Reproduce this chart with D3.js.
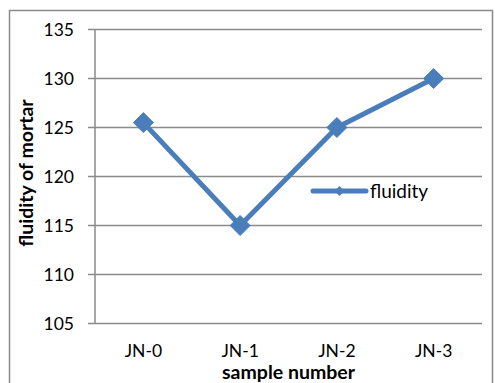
<!DOCTYPE html>
<html>
<head>
<meta charset="utf-8">
<script src="https://cdn.jsdelivr.net/npm/d3@7"></script>
<style>
  html, body { margin: 0; padding: 0; background: #fff; }
  svg { display: block; }
</style>
</head>
<body>
<svg id="chart" width="495" height="383"></svg>
<script>
// Mortar fluidity by sample
const samples = ["JN-0", "JN-1", "JN-2", "JN-3"];
const fluidity = [125.5, 115, 125, 130];
const yTicks = [105, 110, 115, 120, 125, 130, 135];
const seriesName = "fluidity";

const W = 495, H = 383;
const margin = { left: 95, right: 13, top: 29.5, bottom: 59.5 };
const font = "Lato, 'Open Sans', sans-serif";
const blue = "#4A7EBB";
const grid = "#8a8a8a";
const ink = "#000";

const svg = d3.select("#chart");

// outer frame
svg.append("rect")
  .attr("x", 9.5).attr("y", 10.5)
  .attr("width", W - 12).attr("height", H - 8)
  .attr("fill", "none").attr("stroke", grid).attr("stroke-width", 1.5);

const x = d3.scaleBand().domain(samples)
  .range([margin.left, W - margin.right]);
const y = d3.scaleLinear().domain([105, 135])
  .range([H - margin.bottom, margin.top]);

// horizontal grid lines
svg.append("g").selectAll("line").data(yTicks).join("line")
  .attr("x1", margin.left - 7).attr("x2", W - margin.right)
  .attr("y1", d => y(d)).attr("y2", d => y(d))
  .attr("stroke", grid).attr("stroke-width", 1.5);

// y axis line
svg.append("line")
  .attr("x1", margin.left).attr("x2", margin.left)
  .attr("y1", y(135)).attr("y2", y(105))
  .attr("stroke", grid).attr("stroke-width", 1.5);

// y tick labels
svg.append("g").selectAll("text").data(yTicks).join("text")
  .attr("x", 74).attr("y", d => y(d))
  .attr("dy", "0.36em")
  .attr("text-anchor", "end")
  .attr("font-family", font).attr("font-size", 17.5)
  .attr("fill", ink)
  .text(d => d);

// x tick labels
svg.append("g").selectAll("text").data(samples).join("text")
  .attr("x", d => x(d) + x.bandwidth() / 2).attr("y", 357)
  .attr("text-anchor", "middle")
  .attr("font-family", font).attr("font-size", 17.5)
  .attr("fill", ink)
  .text(d => d);

// axis titles
svg.append("text")
  .attr("x", (margin.left + W - margin.right) / 2).attr("y", 379)
  .attr("text-anchor", "middle")
  .attr("font-family", font).attr("font-size", 19.5).attr("font-weight", "bold")
  .attr("fill", ink)
  .text("sample number");

svg.append("text")
  .attr("transform", `translate(33,173) rotate(-90)`)
  .attr("text-anchor", "middle")
  .attr("font-family", font).attr("font-size", 19.5).attr("font-weight", "bold")
  .attr("fill", ink)
  .text("fluidity of mortar");

// series line
const pts = samples.map((s, i) => [x(s) + x.bandwidth() / 2, y(fluidity[i])]);
svg.append("path")
  .attr("d", d3.line()(pts))
  .attr("fill", "none").attr("stroke", blue)
  .attr("stroke-width", 5).attr("stroke-linejoin", "round");

const diamond = (cx, cy, r) => `M${cx},${cy - r}L${cx + r},${cy}L${cx},${cy + r}L${cx - r},${cy}Z`;

svg.append("g").selectAll("path").data(pts).join("path")
  .attr("d", d => diamond(d[0], d[1], 10))
  .attr("fill", blue).attr("stroke", blue).attr("stroke-width", 1);

// legend
const lg = svg.append("g");
lg.append("line")
  .attr("x1", 313).attr("x2", 366).attr("y1", 191).attr("y2", 191)
  .attr("stroke", blue).attr("stroke-width", 5).attr("stroke-linecap", "round");
lg.append("path").attr("d", diamond(339.5, 191, 5)).attr("fill", blue);
lg.append("text")
  .attr("x", 370).attr("y", 191).attr("dy", "0.36em")
  .attr("font-family", font).attr("font-size", 19)
  .attr("fill", ink)
  .text(seriesName);
</script>
</body>
</html>
